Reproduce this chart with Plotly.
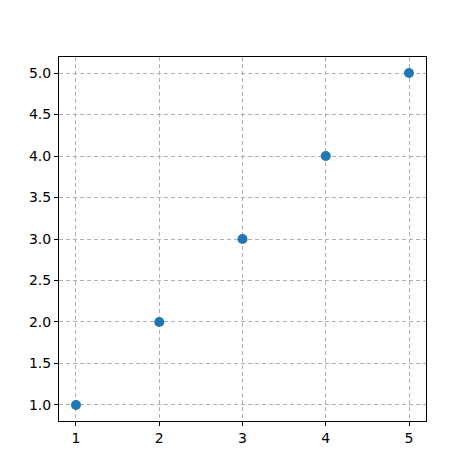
import plotly.graph_objects as go

x_vals = [1, 2, 3, 4, 5]
y_vals = [1, 2, 3, 4, 5]
y_ticks = [1.0, 1.5, 2.0, 2.5, 3.0, 3.5, 4.0, 4.5, 5.0]

fig = go.Figure(go.Scatter(x=x_vals, y=y_vals, mode="markers",
                           marker=dict(color="#1f77b4", size=10)))

axis_style = dict(showgrid=True, gridcolor="#b0b0b0", griddash="4px,3px", gridwidth=1,
                  showline=True, linecolor="black", linewidth=1, mirror=True,
                  ticks="outside", ticklen=4, tickcolor="black", zeroline=False,
                  layer="above traces", tickfont=dict(size=14, color="black"))

fig.update_xaxes(range=[0.796, 5.204], tickvals=x_vals, **axis_style)
fig.update_yaxes(range=[0.807, 5.193], tickvals=y_ticks,
                 ticktext=[f"{v:.1f}" for v in y_ticks], **axis_style)

fig.update_layout(width=474, height=474, plot_bgcolor="white", paper_bgcolor="white",
                  margin=dict(l=51, r=56, t=49, b=61), showlegend=False,
                  font=dict(family="DejaVu Sans"))

fig.write_html("out.html")
